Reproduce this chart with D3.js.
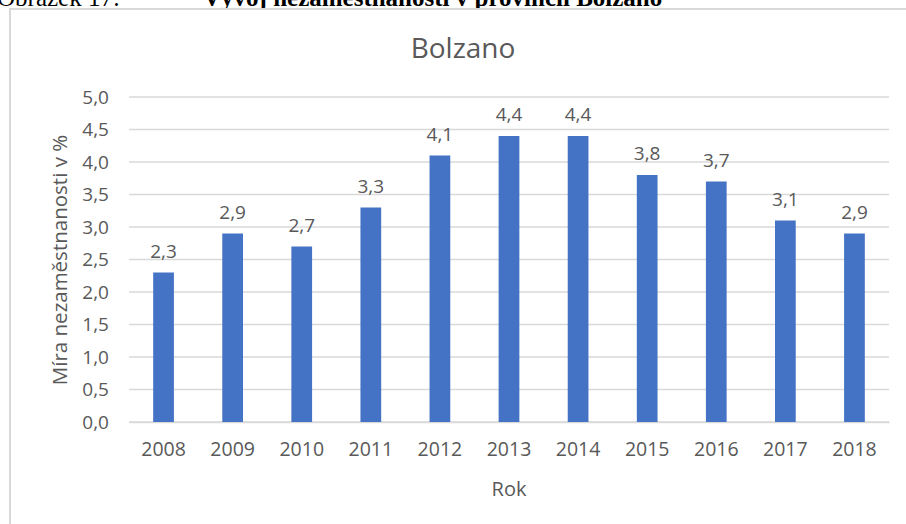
<!DOCTYPE html>
<html>
<head>
<meta charset="utf-8">
<script src="https://cdn.jsdelivr.net/npm/d3@7"></script>
<style>
  body { margin: 0; background: #fff; }
  svg { display: block; }
</style>
</head>
<body>
<svg width="906" height="524"></svg>
<script>
const years = ['2008', '2009', '2010', '2011', '2012', '2013', '2014', '2015', '2016', '2017', '2018']
const rates = [2.3, 2.9, 2.7, 3.3, 4.1, 4.4, 4.4, 3.8, 3.7, 3.1, 2.9]
const yTicks = [0, 0.5, 1, 1.5, 2, 2.5, 3, 3.5, 4, 4.5, 5]

const fmt = v => d3.format('.1f')(v).replace('.', ',')
const font = '"Open Sans", "Segoe UI", sans-serif'
const grey = '#595959'

const svg = d3.select('svg')

// caption of the figure, mostly cut off by the top edge (as in the source)
const caption = svg.append('g')
  .attr('font-family', '"Liberation Serif", "Times New Roman", serif')
  .attr('font-size', 25)
  .attr('fill', '#000')
caption.append('text').attr('x', -3).attr('y', 6).text('Obrázek 17:')
caption.append('text').attr('x', 203).attr('y', 6).attr('font-weight', 'bold')
  .text('Vývoj nezaměstnanosti v provincii Bolzano')

// chart frame
svg.append('rect')
  .attr('x', 10).attr('y', 9)
  .attr('width', 920).attr('height', 540)
  .attr('fill', '#fff')
  .attr('stroke', '#d9d9d9')
  .attr('stroke-width', 2)

const x = d3.scaleBand()
  .domain(years)
  .range([129, 889])
  .paddingInner(0.7)
  .paddingOuter(0.35)

const y = d3.scaleLinear()
  .domain([0, 5])
  .range([422, 97])

svg.append('g')
  .selectAll('line')
  .data(yTicks)
  .join('line')
  .attr('x1', 129).attr('x2', 889)
  .attr('y1', d => y(d)).attr('y2', d => y(d))
  .attr('stroke', '#d9d9d9')
  .attr('stroke-width', 1.5)

const yAxis = svg.append('g')
  .attr('transform', 'translate(109,0)')
  .call(d3.axisLeft(y).tickValues(yTicks).tickFormat(fmt).tickSize(0).tickPadding(0))
yAxis.select('.domain').remove()
yAxis.selectAll('text')
  .attr('font-family', font).attr('font-size', 19).attr('fill', grey)

const xAxis = svg.append('g')
  .attr('transform', 'translate(0,422)')
  .call(d3.axisBottom(x).tickSize(0).tickPadding(20))
xAxis.select('.domain').attr('stroke', '#d9d9d9').attr('stroke-width', 1.5)
xAxis.selectAll('text')
  .attr('font-family', font).attr('font-size', 19.5).attr('fill', grey)

svg.append('g')
  .selectAll('rect')
  .data(rates)
  .join('rect')
  .attr('x', (d, i) => x(years[i]))
  .attr('y', d => y(d))
  .attr('width', x.bandwidth())
  .attr('height', d => y(0) - y(d))
  .attr('fill', '#4472c4')

svg.append('g')
  .selectAll('text')
  .data(rates)
  .join('text')
  .attr('x', (d, i) => x(years[i]) + x.bandwidth() / 2)
  .attr('y', d => y(d) - 15)
  .attr('text-anchor', 'middle')
  .attr('font-family', font).attr('font-size', 19).attr('fill', grey)
  .text(fmt)

svg.append('text')
  .attr('x', 463).attr('y', 58)
  .attr('text-anchor', 'middle')
  .attr('font-family', font).attr('font-size', 28).attr('fill', grey)
  .text('Bolzano')

svg.append('text')
  .attr('x', 509).attr('y', 496)
  .attr('text-anchor', 'middle')
  .attr('font-family', font).attr('font-size', 20).attr('fill', grey)
  .text('Rok')

svg.append('text')
  .attr('transform', 'translate(67,260) rotate(-90)')
  .attr('text-anchor', 'middle')
  .attr('font-family', font).attr('font-size', 20.5).attr('fill', grey)
  .text('Míra nezaměstnanosti v %')
</script>
</body>
</html>
